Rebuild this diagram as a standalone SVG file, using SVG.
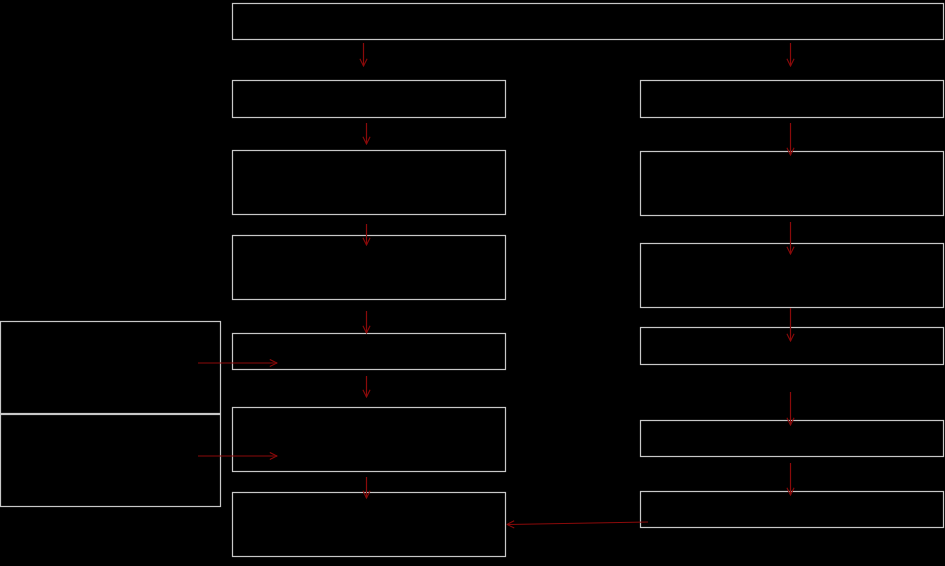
<svg xmlns="http://www.w3.org/2000/svg" width="945" height="566" viewBox="0 0 945 566">
<style>
.box{fill:#000;stroke:#c8c8c8;stroke-width:1.2}
.conn{stroke:#8b0a0a;stroke-width:1.2;fill:none}
</style>
<defs>
<marker id="ah" viewBox="0 0 10 10" refX="9" refY="5" markerWidth="9" markerHeight="9" markerUnits="userSpaceOnUse" orient="auto">
<polyline points="1,1 9,5 1,9" fill="none" stroke="#8b0a0a" stroke-width="1.2"/>
</marker>
</defs>
<rect width="945" height="566" fill="#000"/>
<g id="top"><rect class="box" x="232.5" y="3.5" width="711" height="36"/></g>
<g id="l1"><rect class="box" x="232.5" y="80.5" width="273" height="37"/></g>
<g id="l2"><rect class="box" x="232.5" y="150.5" width="273" height="64"/></g>
<g id="l3"><rect class="box" x="232.5" y="235.5" width="273" height="64"/></g>
<g id="l4"><rect class="box" x="232.5" y="333.5" width="273" height="36"/></g>
<g id="l5"><rect class="box" x="232.5" y="407.5" width="273" height="64"/></g>
<g id="l6"><rect class="box" x="232.5" y="492.5" width="273" height="64"/></g>
<g id="r1"><rect class="box" x="640.5" y="80.5" width="303" height="37"/></g>
<g id="r2"><rect class="box" x="640.5" y="151.5" width="303" height="64"/></g>
<g id="r3"><rect class="box" x="640.5" y="243.5" width="303" height="64"/></g>
<g id="r4"><rect class="box" x="640.5" y="327.5" width="303" height="37"/></g>
<g id="r5"><rect class="box" x="640.5" y="420.5" width="303" height="36"/></g>
<g id="r6"><rect class="box" x="640.5" y="491.5" width="303" height="36"/></g>
<g id="s1"><rect class="box" x="0.5" y="321.5" width="220" height="92"/></g>
<g id="s2"><rect class="box" x="0.5" y="414.5" width="220" height="92"/></g>
<g id="connectors">
<line class="conn" x1="363.5" y1="43" x2="363.5" y2="66" marker-end="url(#ah)"/>
<line class="conn" x1="790.5" y1="43" x2="790.5" y2="66" marker-end="url(#ah)"/>
<line class="conn" x1="366.5" y1="123" x2="366.5" y2="144" marker-end="url(#ah)"/>
<line class="conn" x1="366.5" y1="224" x2="366.5" y2="245" marker-end="url(#ah)"/>
<line class="conn" x1="366.5" y1="311" x2="366.5" y2="333" marker-end="url(#ah)"/>
<line class="conn" x1="366.5" y1="376" x2="366.5" y2="397" marker-end="url(#ah)"/>
<line class="conn" x1="366.5" y1="477" x2="366.5" y2="498" marker-end="url(#ah)"/>
<line class="conn" x1="790.5" y1="123" x2="790.5" y2="155" marker-end="url(#ah)"/>
<line class="conn" x1="790.5" y1="222" x2="790.5" y2="254" marker-end="url(#ah)"/>
<line class="conn" x1="790.5" y1="308" x2="790.5" y2="341" marker-end="url(#ah)"/>
<line class="conn" x1="790.5" y1="392" x2="790.5" y2="425" marker-end="url(#ah)"/>
<line class="conn" x1="790.5" y1="463" x2="790.5" y2="495" marker-end="url(#ah)"/>
<line class="conn" x1="198" y1="363" x2="277" y2="363" marker-end="url(#ah)"/>
<line class="conn" x1="198" y1="456" x2="277" y2="456" marker-end="url(#ah)"/>
<line class="conn" x1="648" y1="522" x2="507" y2="524.5" marker-end="url(#ah)"/>
</g>
</svg>
